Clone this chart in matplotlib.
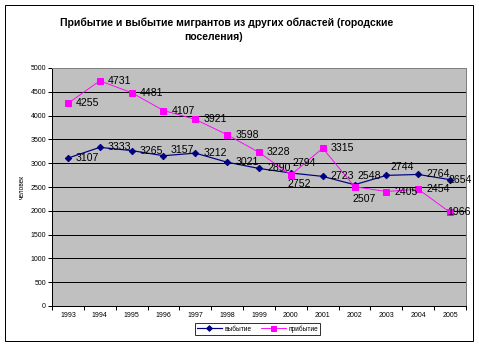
import matplotlib
matplotlib.use("Agg")
import matplotlib.pyplot as plt
from matplotlib.patches import Rectangle
from matplotlib.lines import Line2D

plt.rcParams['font.family'] = ['Liberation Sans', 'DejaVu Sans']

years = ['1993', '1994', '1995', '1996', '1997', '1998', '1999',
         '2000', '2001', '2002', '2003', '2004', '2005']
departures = [3107, 3333, 3265, 3157, 3212, 3021, 2890, 2794, 2723, 2548, 2744, 2764, 2654]
arrivals = [4255, 4731, 4481, 4107, 3921, 3598, 3228, 2752, 3315, 2507, 2405, 2454, 1966]
series_names = ['выбытие', 'прибытие']

# label offsets in points (dx from marker to label's left edge, dy upward)
dep_offsets = [(8, 0), (8, 0), (8, 0), (7, 6), (8, 0), (8, 0), (8, 0),
               (2, 10), (8, 0), (3, 9), (4, 8), (8, 0), (-2, 0)]
arr_offsets = [(8, 0), (8, 0), (8, 0), (8, 0), (8, 0), (8, 0), (8, 0),
               (-3, -9), (8, 0), (-2, -12), (8, 0), (8, 0), (-3, 0)]

W, H = 479, 347
DPI = 72
fig = plt.figure(figsize=(W / DPI, H / DPI), dpi=DPI)
fig.patch.set_facecolor('white')

# outer chart frame
fig.patches.append(Rectangle((5 / W, 1 - 341 / H), 468 / W, 336 / H,
                             transform=fig.transFigure, fill=False,
                             edgecolor='black', linewidth=1))

left, right, top, bottom = 52, 466, 68, 306
ax = fig.add_axes([left / W, 1 - bottom / H, (right - left) / W, (bottom - top) / H])
ax.set_facecolor('#C0C0C0')

x = list(range(len(years)))
ax.plot(x, departures, color='#000080', linewidth=1.2, marker='D',
        markersize=4.5, zorder=3)
ax.plot(x, arrivals, color='#FF00FF', linewidth=0.9, marker='s',
        markersize=6, zorder=3)

for xi, v, (dx, dy) in zip(x, departures, dep_offsets):
    ax.annotate(str(v), (xi, v), xytext=(dx, dy), textcoords='offset points',
                ha='left', va='center', fontsize=10.5, zorder=4,
                annotation_clip=False)
for xi, v, (dx, dy) in zip(x, arrivals, arr_offsets):
    ax.annotate(str(v), (xi, v), xytext=(dx, dy), textcoords='offset points',
                ha='left', va='center', fontsize=10.5, zorder=4,
                annotation_clip=False)

ax.set_xlim(-0.5, len(years) - 0.5)
ax.set_ylim(0, 5000)
ax.set_yticks(range(0, 5001, 500))
ax.yaxis.grid(True, color='black', linewidth=1)
ax.set_axisbelow(True)
ax.tick_params(axis='y', direction='out', length=4, width=1, labelsize=7, pad=2)

ax.set_xticks(x)
ax.set_xticklabels(years)
ax.set_xticks([i - 0.5 for i in range(len(years) + 1)], minor=True)
ax.tick_params(axis='x', which='major', length=0, labelsize=7, pad=6)
ax.tick_params(axis='x', which='minor', direction='out', length=4, width=1)

for side in ('top', 'right'):
    ax.spines[side].set_color('#808080')
for side in ('left', 'bottom'):
    ax.spines[side].set_color('black')
for s in ax.spines.values():
    s.set_linewidth(1)

fig.text(22 / W, 1 - 187 / H, 'человек', rotation=90, ha='center',
         va='center', fontsize=6.5)

fig.text(227 / W, 1 - 22.5 / H,
         'Прибытие и выбытие мигрантов из других областей (городские',
         ha='center', va='center', fontsize=10.4, fontweight='bold')
fig.text(214 / W, 1 - 37.5 / H, 'поселения)',
         ha='center', va='center', fontsize=10.4, fontweight='bold')

handles = [Line2D([], [], color='#000080', linewidth=1.2, marker='D', markersize=4),
           Line2D([], [], color='#FF00FF', linewidth=0.9, marker='s', markersize=5)]
leg = fig.legend(handles, series_names, loc='center',
                 bbox_to_anchor=(257.5 / W, 1 - 329 / H), ncol=2,
                 fontsize=6.5, frameon=True, fancybox=False,
                 edgecolor='black', handlelength=3.8, columnspacing=1.5,
                 handletextpad=0.4, borderpad=0.35, borderaxespad=0)
leg.get_frame().set_linewidth(1)

fig.savefig('out.png', dpi=DPI)
